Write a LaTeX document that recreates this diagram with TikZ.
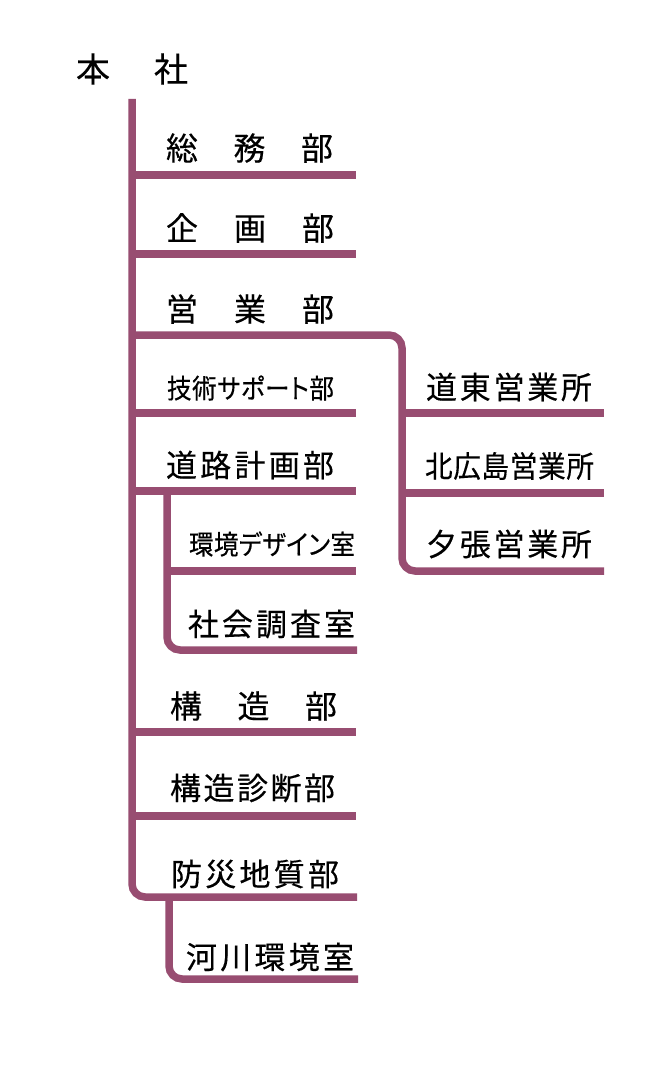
\documentclass[tikz,border=0pt]{standalone}
\usepackage{fontspec}
\setmainfont{Noto Sans CJK JP}[FakeBold=0.35]
\newfontfamily\paltfont{Noto Sans CJK JP}[FakeBold=0.35,RawFeature=+palt,FakeStretch=0.91]
\newfontfamily\narrowfont{Noto Sans CJK JP}[FakeBold=0.35,FakeStretch=0.92]
\definecolor{org}{RGB}{152,77,113}
\newcommand{\lblbox}[3]{{\fontsize{#1}{#1}\selectfont\makebox[#2pt]{#3}}}
\newcommand{\lblpalt}[3]{{\paltfont\fontsize{#1}{#1}\selectfont\makebox[#2pt]{#3}}}
\newcommand{\lblnarrow}[3]{{\narrowfont\fontsize{#1}{#1}\selectfont\makebox[#2pt]{#3}}}
\begin{document}
\begin{tikzpicture}[x=1pt,y=-1pt,
  conn/.style={draw=org, line width=7.5pt},
  rconn/.style={conn, rounded corners=13pt},
  lbl/.style={anchor=west, inner sep=0pt, outer sep=0pt, text=black}]
\useasboundingbox (0,0) rectangle (648,1086);
\fill[white] (0,0) rectangle (648,1086);

% coordinates of the tree
\coordinate (top) at (132,99);
\coordinate (trunkend) at (132,897);
\coordinate (bosaiR) at (357,897);
\coordinate (somuL) at (132,175);   \coordinate (somuR) at (356,175);
\coordinate (kikakuL) at (132,254); \coordinate (kikakuR) at (356,254);
\coordinate (eigyoL) at (132,335);  \coordinate (eigyoK) at (402,335);
\coordinate (eigyoB) at (402,571);  \coordinate (yubariR) at (604,571);
\coordinate (dotoL) at (402,413);   \coordinate (dotoR) at (604,413);
\coordinate (kitaL) at (402,493);   \coordinate (kitaR) at (604,493);
\coordinate (gijL) at (132,413);    \coordinate (gijR) at (356,413);
\coordinate (doroL) at (132,491);   \coordinate (doroR) at (356,491);
\coordinate (doroS) at (167,491);   \coordinate (doroB) at (167,650);
\coordinate (shakaiR) at (357,650);
\coordinate (kankyoL) at (167,571); \coordinate (kankyoR) at (356,571);
\coordinate (kozoL) at (132,732);   \coordinate (kozoR) at (356,732);
\coordinate (shinL) at (132,816);   \coordinate (shinR) at (356,816);
\coordinate (bosaiS) at (169,897);  \coordinate (bosaiB) at (169,979);
\coordinate (kasenR) at (358,979);

% connectors
\draw[rconn] (top) -- (trunkend) -- (bosaiR);
\draw[conn] (somuL) -- (somuR);
\draw[conn] (kikakuL) -- (kikakuR);
\draw[rconn] (eigyoL) -- (eigyoK) -- (eigyoB) -- (yubariR);
\draw[conn] (dotoL) -- (dotoR);
\draw[conn] (kitaL) -- (kitaR);
\draw[conn] (gijL) -- (gijR);
\draw[conn] (doroL) -- (doroR);
\draw[rconn] (doroS) -- (doroB) -- (shakaiR);
\draw[conn] (kankyoL) -- (kankyoR);
\draw[conn] (kozoL) -- (kozoR);
\draw[conn] (shinL) -- (shinR);
\draw[rconn] (bosaiS) -- (bosaiB) -- (kasenR);

% labels
\node[lbl] (honsha) at (76,69) {\lblbox{34}{112}{本\hfill 社}};
\node[lbl] (somu) at (166,148) {\lblbox{32}{167}{総\hfill 務\hfill 部}};
\node[lbl] (kikaku) at (166,228) {\lblbox{32}{168}{企\hfill 画\hfill 部}};
\node[lbl] (eigyo) at (166,309) {\lblbox{32}{168}{営\hfill 業\hfill 部}};
\node[lbl] (gijutsu) at (167,388) {\lblpalt{27}{167}{技\hfill 術\hfill サ\hfill ポ\hfill ー\hfill ト\hfill 部}};
\node[lbl] (doro) at (166,465) {\lblbox{31}{168}{道\hfill 路\hfill 計\hfill 画\hfill 部}};
\node[lbl] (kankyo) at (189,544) {\lblpalt{27}{166}{環\hfill 境\hfill デ\hfill ザ\hfill イ\hfill ン\hfill 室}};
\node[lbl] (shakai) at (188,624) {\lblbox{31}{167}{社\hfill 会\hfill 調\hfill 査\hfill 室}};
\node[lbl] (kozo) at (170,706) {\lblbox{32}{167}{構\hfill 造\hfill 部}};
\node[lbl] (shindan) at (170,788) {\lblbox{31}{165}{構\hfill 造\hfill 診\hfill 断\hfill 部}};
\node[lbl] (bosai) at (171,874) {\lblbox{31}{168}{防\hfill 災\hfill 地\hfill 質\hfill 部}};
\node[lbl] (kasen) at (186,957) {\lblbox{31}{168}{河\hfill 川\hfill 環\hfill 境\hfill 室}};
\node[lbl] (doto) at (426,387) {\lblbox{31}{166}{道\hfill 東\hfill 営\hfill 業\hfill 所}};
\node[lbl] (kita) at (425,466) {\lblnarrow{30}{169}{北\hfill 広\hfill 島\hfill 営\hfill 業\hfill 所}};
\node[lbl] (yubari) at (426,544) {\lblbox{31}{166}{夕\hfill 張\hfill 営\hfill 業\hfill 所}};
\end{tikzpicture}
\end{document}
